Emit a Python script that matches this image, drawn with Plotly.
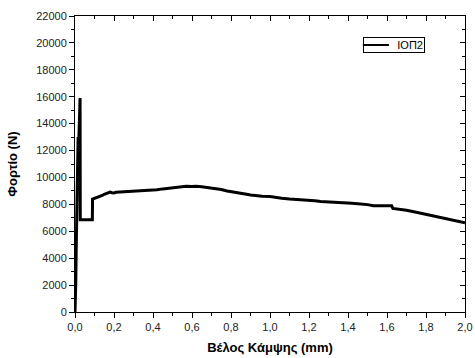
import plotly.graph_objects as go

# Data
deflection_mm = [0.000, 0.002, 0.004, 0.006, 0.008, 0.010, 0.012, 0.014, 0.016, 0.018,
                 0.020, 0.022, 0.024, 0.026, 0.027, 0.060, 0.089, 0.090, 0.100, 0.110,
                 0.120, 0.130, 0.140, 0.150, 0.160, 0.170, 0.180, 0.190, 0.200, 0.210,
                 0.230, 0.250, 0.270, 0.300, 0.320, 0.350, 0.380, 0.400, 0.420, 0.450,
                 0.480, 0.500, 0.520, 0.550, 0.570, 0.600, 0.620, 0.650, 0.680, 0.700,
                 0.720, 0.750, 0.780, 0.800, 0.820, 0.850, 0.880, 0.900, 0.930, 0.960,
                 1.000, 1.030, 1.060, 1.100, 1.130, 1.160, 1.200, 1.230, 1.260, 1.300,
                 1.330, 1.360, 1.400, 1.420, 1.450, 1.480, 1.500, 1.530, 1.560, 1.600,
                 1.624, 1.630, 1.660, 1.700, 1.750, 1.800, 1.850, 1.900, 1.950, 2.000]
load_N = [0, 600, 2200, 4500, 6800, 8600, 10200, 11600, 13000, 12000,
          13600, 14800, 15500, 15900, 6850, 6850, 6850, 8400, 8450, 8500,
          8540, 8600, 8660, 8750, 8820, 8880, 8920, 8870, 8850, 8900,
          8920, 8900, 8960, 8970, 9000, 9020, 9050, 9100, 9080, 9150,
          9200, 9230, 9260, 9300, 9340, 9330, 9350, 9310, 9260, 9220,
          9180, 9100, 9000, 8960, 8880, 8820, 8750, 8700, 8640, 8600,
          8580, 8500, 8460, 8400, 8380, 8330, 8300, 8260, 8220, 8200,
          8180, 8150, 8100, 8090, 8050, 8020, 7980, 7900, 7890, 7890,
          7890, 7700, 7650, 7560, 7420, 7270, 7130, 6980, 6820, 6640]
series_name = "ΙΟΠ2"
x_title = "Βέλος Κάμψης (mm)"
y_title = "Φορτίο (N)"
x_range = [0, 2.0]
y_range = [0, 22000]

fig = go.Figure()
fig.add_trace(go.Scatter(x=deflection_mm, y=load_N, mode="lines", name=series_name,
                         line=dict(color="black", width=3), showlegend=False))
# invisible trace for the mirrored (top/right) axes with inside ticks
fig.add_trace(go.Scatter(x=x_range, y=y_range, xaxis="x2", yaxis="y2", mode="lines",
                         line=dict(color="rgba(0,0,0,0)"), showlegend=False, hoverinfo="skip"))

tickfont = dict(family="Liberation Sans, Arial", size=11, color="#222")
titlefont = dict(family="Liberation Sans, Arial", size=13, color="black")

# compact boxed legend (Origin style)
fig.add_annotation(xref="paper", yref="paper", x=0.897, y=0.929, xanchor="right", yanchor="top",
                   text=series_name, showarrow=False, align="right", width=58, height=12,
                   font=dict(family="Liberation Sans, Arial", size=11, color="black"),
                   bordercolor="black", borderwidth=1, borderpad=1, bgcolor="rgba(255,255,255,0)")
fig.add_shape(type="line", xref="paper", yref="paper", x0=0.738, x1=0.805, y0=0.902, y1=0.902,
              line=dict(color="black", width=2), layer="above")

fig.update_layout(
    template="none",
    width=475, height=358,
    margin=dict(l=75, r=10, t=16, b=46, autoexpand=False),
    paper_bgcolor="white", plot_bgcolor="white",
    separators=",.",
    showlegend=False,
    xaxis=dict(range=x_range, dtick=0.2, tick0=0, tickformat=".1f", automargin=False,
               showgrid=False, zeroline=False, showline=True, linecolor="black", linewidth=1,
               ticks="outside", ticklen=5, tickcolor="black", tickfont=tickfont,
               minor=dict(dtick=0.1, ticks="outside", ticklen=3, tickcolor="black", showgrid=False),
               title=dict(text="<b>" + x_title + "</b>", font=titlefont, standoff=10)),
    yaxis=dict(range=y_range, dtick=2000, tick0=0, tickformat="d", automargin=False,
               showgrid=False, zeroline=False, showline=True, linecolor="black", linewidth=1,
               ticks="outside", ticklen=5, tickcolor="black", tickfont=tickfont,
               minor=dict(dtick=1000, ticks="outside", ticklen=3, tickcolor="black", showgrid=False),
               title=dict(text="<b>" + y_title + "</b>", font=titlefont, standoff=15)),
    xaxis2=dict(range=x_range, overlaying="x", side="top", dtick=0.2, tick0=0, automargin=False,
                showticklabels=False, showgrid=False, zeroline=False,
                showline=True, linecolor="black", linewidth=1,
                ticks="inside", ticklen=5, tickcolor="black",
                minor=dict(dtick=0.1, ticks="inside", ticklen=3, tickcolor="black", showgrid=False)),
    yaxis2=dict(range=y_range, overlaying="y", side="right", dtick=2000, tick0=0, automargin=False,
                showticklabels=False, showgrid=False, zeroline=False,
                showline=True, linecolor="black", linewidth=1,
                ticks="inside", ticklen=5, tickcolor="black",
                minor=dict(dtick=1000, ticks="inside", ticklen=3, tickcolor="black", showgrid=False)),
)

fig.write_html("out.html", config={"displayModeBar": False},
               post_script="document.body.style.margin='0';document.body.style.overflow='hidden';")
